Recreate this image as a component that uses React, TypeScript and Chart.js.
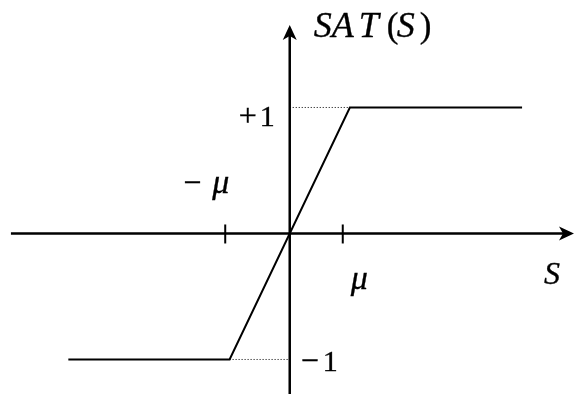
import { useEffect, useRef } from "react";
import { Chart, registerables } from "chart.js";

Chart.register(...registerables);

// SAT(S): held at -1, linear ramp through the origin, held at +1
const satS = [-4.05, -1.1, 1.1, 4.25];
const satValue = [-1, -1, 1, 1];

// Dotted guides from the vertical axis to the corners of the ramp
const upperGuideS = [0, 1.1];
const upperGuideValue = [1, 1];
const lowerGuideS = [-1.1, 0];
const lowerGuideValue = [-1, -1];

// Tick marks on the S axis at -μ and +μ
const muTicks = [-1.18, 0.97];

// Visible window and axis extents, in data units
const xRange = [-5.3, 5.2];
const yRange = [-1.274, 1.853];
const sAxisSpan = [-5.1, 5.2];
const satAxisSpan = [-1.274, 1.655];

const FACE = '"Liberation Serif"';

function arrowHead(
  ctx: CanvasRenderingContext2D,
  tipX: number,
  tipY: number,
  dx: number,
  dy: number
) {
  const len = 15;
  const half = 7;
  const notch = 11;
  const px = -dy;
  const py = dx;
  ctx.beginPath();
  ctx.moveTo(tipX, tipY);
  ctx.lineTo(tipX - dx * len + px * half, tipY - dy * len + py * half);
  ctx.lineTo(tipX - dx * notch, tipY - dy * notch);
  ctx.lineTo(tipX - dx * len - px * half, tipY - dy * len - py * half);
  ctx.closePath();
  ctx.fill();
}

const axesPlugin = {
  id: "satAxes",
  afterDatasetsDraw(chart: any) {
    const ctx: CanvasRenderingContext2D = chart.ctx;
    const xs = chart.scales.x;
    const ys = chart.scales.y;
    const x0 = xs.getPixelForValue(0);
    const y0 = ys.getPixelForValue(0);

    ctx.save();
    ctx.strokeStyle = "#000";
    ctx.fillStyle = "#000";
    ctx.lineWidth = 2.5;
    ctx.lineCap = "butt";

    // horizontal S axis
    const xa = xs.getPixelForValue(sAxisSpan[0]);
    const xb = xs.getPixelForValue(sAxisSpan[1]);
    ctx.beginPath();
    ctx.moveTo(xa, y0);
    ctx.lineTo(xb - 8, y0);
    ctx.stroke();
    arrowHead(ctx, xb, y0, 1, 0);

    // vertical SAT axis
    const ya = ys.getPixelForValue(satAxisSpan[0]);
    const yb = ys.getPixelForValue(satAxisSpan[1]);
    ctx.beginPath();
    ctx.moveTo(x0, ya);
    ctx.lineTo(x0, yb + 8);
    ctx.stroke();
    arrowHead(ctx, x0, yb, 0, -1);

    // ±μ tick marks
    ctx.lineWidth = 2;
    for (const t of muTicks) {
      const tx = xs.getPixelForValue(t);
      ctx.beginPath();
      ctx.moveTo(tx, y0 - 9);
      ctx.lineTo(tx, y0 + 10);
      ctx.stroke();
    }

    // glyphs get a hairline stroke so they read as firmly as the lines
    ctx.lineWidth = 0.35;
    const put = (s: string, x: number, y: number, font: string) => {
      ctx.font = font;
      ctx.textAlign = "left";
      ctx.textBaseline = "alphabetic";
      ctx.fillText(s, x, y);
      ctx.strokeText(s, x, y);
    };

    const it = (size: number) => "italic " + size + "px " + FACE;
    const up = (size: number) => size + "px " + FACE;

    // axis titles, set glyph by glyph with math spacing
    const tb = yb + 12;
    put("S", x0 + 24, tb, it(36));
    put("A", x0 + 42, tb, it(36));
    put("T", x0 + 69, tb, it(36));
    put("(", x0 + 97, tb, up(35));
    put("S", x0 + 107, tb, it(36));
    put(")", x0 + 130, tb, up(35));
    put("S", xb - 30, y0 + 51, it(32));

    // level labels
    const yPlus = ys.getPixelForValue(1);
    const yMinus = ys.getPixelForValue(-1);
    put("+", x0 - 51, yPlus + 19, up(32));
    put("1", x0 - 30, yPlus + 19, up(30));
    put("\u2212", x0 + 11, yMinus + 12, up(32));
    put("1", x0 + 33, yMinus + 12, up(30));

    // μ labels
    const tL = xs.getPixelForValue(muTicks[0]);
    const tR = xs.getPixelForValue(muTicks[1]);
    put("\u2212", tL - 42, y0 - 40, up(32));
    put("\u03bc", tL - 13, y0 - 40, it(34));
    put("\u03bc", tR + 8, y0 + 56, it(34));

    ctx.restore();
  },
};

export default function App() {
  const ref = useRef<HTMLCanvasElement>(null);

  useEffect(() => {
    document.body.style.margin = "0";
    const canvas = ref.current;
    if (!canvas) return;
    const toPts = (xs: number[], ys: number[]) =>
      xs.map((x, i) => ({ x, y: ys[i] }));

    const chart = new Chart(canvas, {
      type: "line",
      data: {
        datasets: [
          {
            data: toPts(satS, satValue),
            borderColor: "#000",
            borderWidth: 2,
            pointRadius: 0,
            fill: false,
            tension: 0,
          },
          {
            data: toPts(upperGuideS, upperGuideValue),
            borderColor: "#000",
            borderWidth: 1,
            borderDash: [1, 2],
            pointRadius: 0,
            fill: false,
          },
          {
            data: toPts(lowerGuideS, lowerGuideValue),
            borderColor: "#000",
            borderWidth: 1,
            borderDash: [1, 2],
            pointRadius: 0,
            fill: false,
          },
        ],
      },
      options: {
        animation: false,
        responsive: false,
        devicePixelRatio: 1,
        layout: { padding: 0 },
        plugins: {
          legend: { display: false },
          tooltip: { enabled: false },
        },
        scales: {
          x: { type: "linear", display: false, min: xRange[0], max: xRange[1] },
          y: { type: "linear", display: false, min: yRange[0], max: yRange[1] },
        },
      },
      plugins: [axesPlugin],
    });

    return () => chart.destroy();
  }, []);

  return (
    <div style={{ position: "absolute", left: 0, top: 0, width: 574, height: 394, background: "#fff" }}>
      <canvas ref={ref} width={574} height={394} />
    </div>
  );
}
